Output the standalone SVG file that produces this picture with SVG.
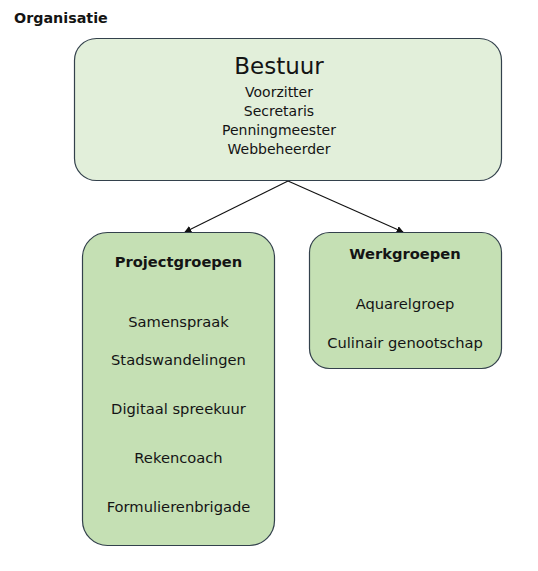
<svg xmlns="http://www.w3.org/2000/svg" width="538" height="571" viewBox="0 0 538 571">
<style>
text{font-family:"DejaVu Sans","Verdana",sans-serif;fill:#141414;text-anchor:middle}
.b{font-weight:bold}
.t{font-size:14px}
.s{font-size:14.7px}
.box{stroke:#33414c;stroke-width:1.2}
.top{fill:#e2efda}
.sub{fill:#c5e0b4}
.c{stroke:#111;stroke-width:1.1;fill:none;marker-end:url(#ah)}
</style>
<defs>
<marker id="ah" viewBox="0 0 10 10" refX="9" refY="5" markerWidth="7" markerHeight="7" markerUnits="userSpaceOnUse" orient="auto">
<path d="M0,0 L10,5 L0,10 z" fill="#111"/>
</marker>
</defs>
<rect width="538" height="571" fill="#fff"/>
<text x="14" y="23" class="b" style="text-anchor:start;font-size:14.3px">Organisatie</text>
<g id="connectors">
<line class="c" x1="288" y1="181" x2="185" y2="232"/>
<line class="c" x1="288" y1="181" x2="403" y2="232"/>
</g>
<g id="bestuur">
<rect class="box top" x="74.5" y="38.5" width="427" height="142" rx="22"/>
<text x="279" y="74" style="font-size:23px">Bestuur</text>
<text x="279" y="97" class="t">Voorzitter</text>
<text x="279" y="116" class="t">Secretaris</text>
<text x="279" y="135" class="t">Penningmeester</text>
<text x="279" y="154" class="t">Webbeheerder</text>
</g>
<g id="projectgroepen">
<rect class="box sub" x="82.5" y="232.5" width="192" height="313" rx="25"/>
<text x="178.5" y="267" class="b s">Projectgroepen</text>
<text x="178.5" y="327" class="s">Samenspraak</text>
<text x="178.5" y="365" class="s">Stadswandelingen</text>
<text x="178.5" y="414" class="s">Digitaal spreekuur</text>
<text x="178.5" y="463" class="s">Rekencoach</text>
<text x="178.5" y="512" class="s">Formulierenbrigade</text>
</g>
<g id="werkgroepen">
<rect class="box sub" x="309.5" y="232.5" width="192" height="136" rx="20"/>
<text x="405" y="258.5" class="b s">Werkgroepen</text>
<text x="405" y="308.5" class="s">Aquarelgroep</text>
<text x="405" y="348" class="s">Culinair genootschap</text>
</g>
</svg>
